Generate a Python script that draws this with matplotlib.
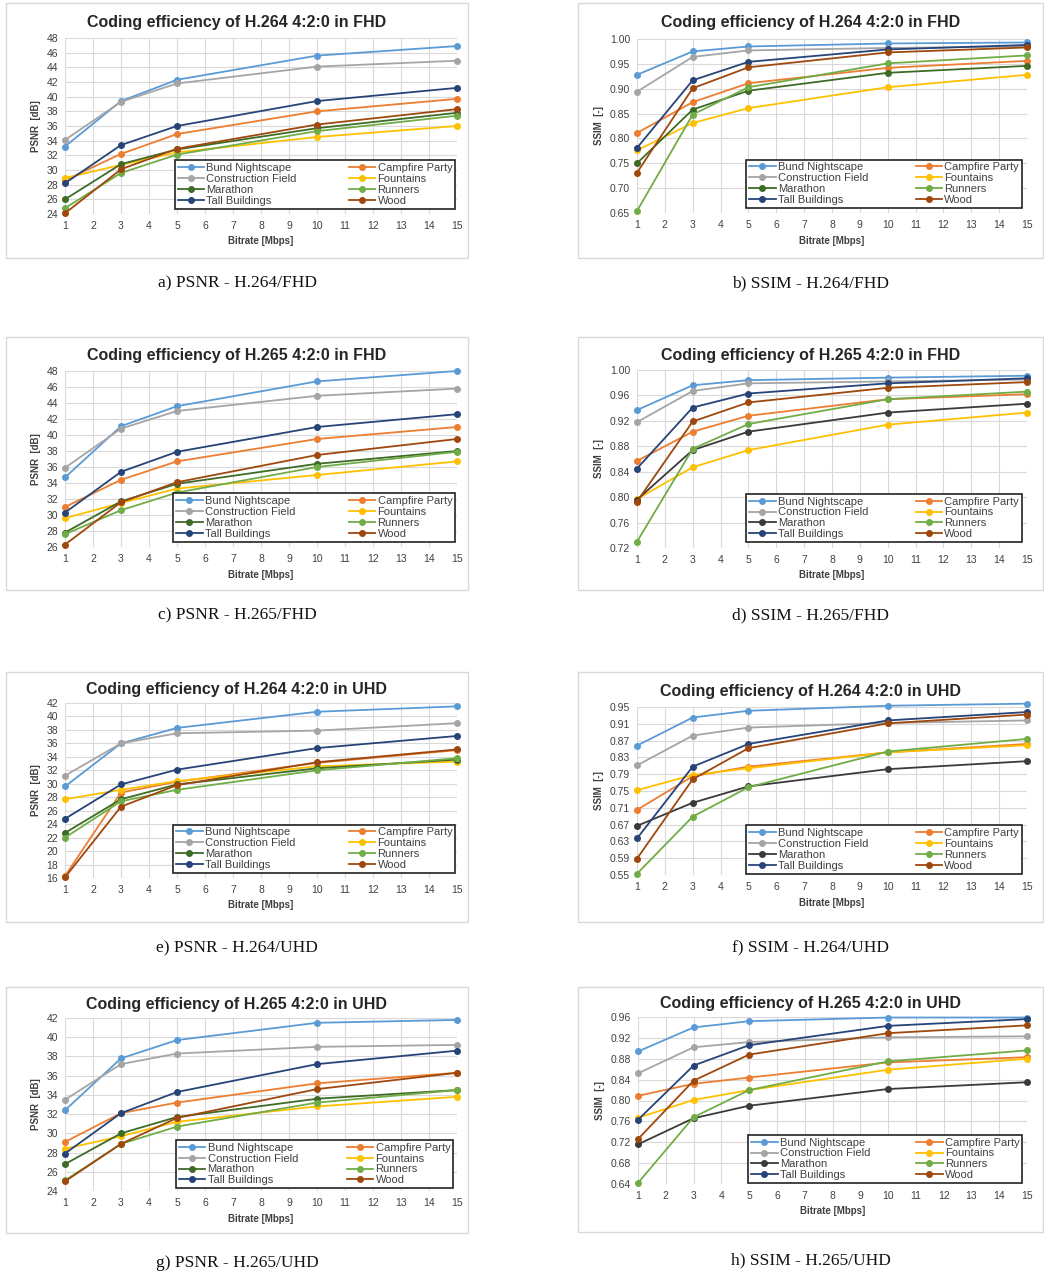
import matplotlib
matplotlib.use("Agg")
import matplotlib.pyplot as plt
from matplotlib.patches import Rectangle
from matplotlib.ticker import FormatStrFormatter
import numpy as np

# ---------------------------------------------------------------- data
bitrates = [1, 3, 5, 10, 15]
x_ticks = list(range(1, 16))

sequences = ["Bund Nightscape", "Campfire Party", "Construction Field", "Fountains",
             "Marathon", "Runners", "Tall Buildings", "Wood"]

# series order follows `sequences`
psnr_h264_fhd = [
    [33.2, 39.4, 42.3, 45.6, 46.9],
    [28.6, 32.2, 34.9, 38.0, 39.7],
    [34.1, 39.3, 41.8, 44.1, 44.9],
    [28.9, 30.7, 32.4, 34.5, 36.0],
    [26.0, 30.8, 32.8, 35.7, 37.8],
    [24.8, 29.6, 32.1, 35.3, 37.4],
    [28.2, 33.4, 36.0, 39.4, 41.2],
    [24.1, 30.1, 32.9, 36.2, 38.3],
]
ssim_h264_fhd = [
    [0.928, 0.975, 0.985, 0.991, 0.993],
    [0.811, 0.873, 0.911, 0.942, 0.956],
    [0.894, 0.964, 0.977, 0.982, 0.985],
    [0.776, 0.831, 0.861, 0.903, 0.928],
    [0.750, 0.858, 0.896, 0.932, 0.946],
    [0.654, 0.848, 0.903, 0.951, 0.967],
    [0.781, 0.917, 0.954, 0.979, 0.988],
    [0.731, 0.901, 0.943, 0.973, 0.983],
]
psnr_h265_fhd = [
    [34.7, 41.1, 43.6, 46.7, 48.0],
    [31.0, 34.4, 36.7, 39.5, 41.0],
    [35.9, 40.8, 43.0, 44.9, 45.8],
    [29.6, 31.5, 33.3, 35.0, 36.7],
    [27.8, 31.7, 33.9, 36.4, 38.0],
    [27.6, 30.6, 32.8, 36.0, 37.9],
    [30.3, 35.4, 37.9, 41.0, 42.6],
    [26.3, 31.6, 34.1, 37.5, 39.5],
]
ssim_h265_fhd = [
    [0.937, 0.976, 0.984, 0.988, 0.991],
    [0.857, 0.903, 0.928, 0.954, 0.962],
    [0.918, 0.967, 0.979, 0.982, 0.985],
    [0.797, 0.847, 0.874, 0.914, 0.933],
    [0.796, 0.874, 0.903, 0.933, 0.947],
    [0.730, 0.876, 0.915, 0.954, 0.966],
    [0.845, 0.941, 0.963, 0.979, 0.987],
    [0.793, 0.919, 0.949, 0.972, 0.981],
]
psnr_h264_uhd = [
    [29.6, 36.0, 38.3, 40.7, 41.5],
    [16.3, 28.7, 30.3, 33.1, 35.0],
    [31.2, 36.0, 37.5, 37.9, 39.0],
    [27.7, 29.1, 30.4, 32.6, 33.3],
    [22.7, 27.7, 29.9, 32.3, 33.6],
    [22.0, 27.4, 29.1, 32.0, 33.8],
    [24.8, 29.9, 32.1, 35.3, 37.1],
    [16.1, 26.6, 29.8, 33.2, 35.1],
]
ssim_h264_uhd = [
    [0.858, 0.925, 0.941, 0.953, 0.958],
    [0.705, 0.785, 0.808, 0.842, 0.862],
    [0.811, 0.882, 0.901, 0.912, 0.918],
    [0.752, 0.788, 0.804, 0.842, 0.859],
    [0.667, 0.722, 0.761, 0.802, 0.821],
    [0.553, 0.689, 0.759, 0.844, 0.874],
    [0.637, 0.808, 0.862, 0.918, 0.938],
    [0.589, 0.778, 0.852, 0.911, 0.932],
]
psnr_h265_uhd = [
    [32.4, 37.8, 39.7, 41.5, 41.8],
    [29.1, 32.1, 33.2, 35.2, 36.3],
    [33.5, 37.2, 38.3, 39.0, 39.2],
    [28.4, 29.7, 31.2, 32.8, 33.8],
    [26.8, 30.0, 31.7, 33.6, 34.5],
    [25.1, 28.9, 30.7, 33.2, 34.5],
    [27.9, 32.1, 34.3, 37.2, 38.6],
    [25.0, 28.9, 31.6, 34.6, 36.3],
]
ssim_h265_uhd = [
    [0.894, 0.940, 0.952, 0.959, 0.959],
    [0.809, 0.832, 0.844, 0.873, 0.883],
    [0.852, 0.902, 0.912, 0.921, 0.923],
    [0.767, 0.801, 0.820, 0.859, 0.880],
    [0.716, 0.766, 0.790, 0.822, 0.835],
    [0.642, 0.768, 0.820, 0.875, 0.896],
    [0.763, 0.867, 0.906, 0.943, 0.956],
    [0.726, 0.838, 0.888, 0.929, 0.944],
]

# ---------------------------------------------------------------- styling
base_colors = ["#5B9BD5", "#ED7D31", "#A5A5A5", "#FFC000",
               "#3E6B26", "#70AD47", "#264478", "#9E480E"]
marathon_dark = "#3A3A3A"

W, H = 1044, 1271
fig = plt.figure(figsize=(W / 100, H / 100), dpi=100)
fig.patch.set_facecolor("white")

SANS = ["Liberation Sans", "DejaVu Sans"]
SERIF = ["Liberation Serif", "DejaVu Serif"]

# legend is filled row by row: reorder for matplotlib's column-first filling
legend_order = [0, 2, 4, 6, 1, 3, 5, 7]


def fig_box(left, top, right, bottom):
    """pixel box -> figure fraction [x, y, w, h]"""
    return [left / W, 1 - bottom / H, (right - left) / W, (bottom - top) / H]


panels = [
    dict(data=psnr_h264_fhd, title="Coding efficiency of H.264 4:2:0 in FHD",
         caption="a) PSNR - H.264/FHD", ylabel="PSNR  [dB]",
         yticks=np.arange(24, 49, 2), fmt="%d", marathon=None,
         ax_px=(65, 38, 457, 214), box_px=(6, 3, 468, 258), cap_y=283,
         leg=(0.28, 0.03, 0.715, 0.26)),
    dict(data=ssim_h264_fhd, title="Coding efficiency of H.264 4:2:0 in FHD",
         caption="b) SSIM - H.264/FHD", ylabel="SSIM  [-]",
         yticks=np.linspace(0.65, 1.00, 8), fmt="%.2f", marathon=None,
         ax_px=(637, 39, 1027, 213), box_px=(578, 3, 1043, 258), cap_y=283,
         leg=(0.28, 0.03, 0.707, 0.315)),
    dict(data=psnr_h265_fhd, title="Coding efficiency of H.265 4:2:0 in FHD",
         caption="c) PSNR - H.265/FHD", ylabel="PSNR  [dB]",
         yticks=np.arange(26, 49, 2), fmt="%d", marathon=None,
         ax_px=(65, 371, 457, 547), box_px=(6, 337, 468, 590), cap_y=615,
         leg=(0.276, 0.03, 0.719, 0.254)),
    dict(data=ssim_h265_fhd, title="Coding efficiency of H.265 4:2:0 in FHD",
         caption="d) SSIM - H.265/FHD", ylabel="SSIM  [-]",
         yticks=np.linspace(0.72, 1.00, 8), fmt="%.2f", marathon=marathon_dark,
         ax_px=(637, 370, 1027, 548), box_px=(578, 337, 1043, 590), cap_y=615,
         leg=(0.28, 0.034, 0.707, 0.32)),
    dict(data=psnr_h264_uhd, title="Coding efficiency of H.264 4:2:0 in UHD",
         caption="e) PSNR - H.264/UHD", ylabel="PSNR  [dB]",
         yticks=np.arange(16, 43, 2), fmt="%d", marathon=None,
         ax_px=(65, 703, 457, 878), box_px=(6, 672, 468, 922), cap_y=948,
         leg=(0.276, 0.03, 0.719, 0.26)),
    dict(data=ssim_h264_uhd, title="Coding efficiency of H.264 4:2:0 in UHD",
         caption="f) SSIM - H.264/UHD", ylabel="SSIM  [-]",
         yticks=np.linspace(0.55, 0.95, 11), fmt="%.2f", marathon=marathon_dark,
         ax_px=(637, 707, 1027, 875), box_px=(578, 672, 1043, 922), cap_y=948,
         leg=(0.28, 0.008, 0.707, 0.32)),
    dict(data=psnr_h265_uhd, title="Coding efficiency of H.265 4:2:0 in UHD",
         caption="g) PSNR - H.265/UHD", ylabel="PSNR  [dB]",
         yticks=np.arange(24, 43, 2), fmt="%d", marathon=None,
         ax_px=(65, 1018, 457, 1191), box_px=(6, 987, 468, 1233), cap_y=1263,
         leg=(0.283, 0.017, 0.707, 0.266)),
    dict(data=ssim_h265_uhd, title="Coding efficiency of H.265 4:2:0 in UHD",
         caption="h) SSIM - H.265/UHD", ylabel="SSIM  [-]",
         yticks=np.linspace(0.64, 0.96, 9), fmt="%.2f", marathon=marathon_dark,
         ax_px=(638, 1017, 1027, 1184), box_px=(578, 987, 1043, 1232), cap_y=1260,
         leg=(0.283, 0.006, 0.705, 0.305)),
]

for p in panels:
    bl, bt, br, bb = p["box_px"]
    # chart frame
    fig.patches.append(Rectangle((bl / W, 1 - bb / H), (br - bl) / W, (bb - bt) / H,
                                 transform=fig.transFigure, fill=False,
                                 edgecolor="#D9D9D9", linewidth=1.0))
    cx = (bl + br) / 2 / W
    title_y = bt + (p["ax_px"][1] - bt) * 0.55
    fig.text(cx, 1 - title_y / H, p["title"], ha="center", va="center",
             fontsize=11.5, fontweight="bold", family=SANS, color="#262626")
    fig.text(cx, 1 - p["cap_y"] / H, p["caption"], ha="center", va="center",
             fontsize=12.5, family=SERIF, color="#111111")

    ax = fig.add_axes(fig_box(*p["ax_px"]))
    colors = list(base_colors)
    if p["marathon"]:
        colors[4] = p["marathon"]
    lines = []
    for name, vals, c in zip(sequences, p["data"], colors):
        ln, = ax.plot(bitrates, vals, color=c, linewidth=1.3, marker="o",
                      markersize=4, label=name, clip_on=False, zorder=3)
        lines.append(ln)

    ax.set_xlim(1, 15)
    ax.set_ylim(p["yticks"][0], p["yticks"][-1])
    ax.set_xticks(x_ticks)
    ax.set_yticks(p["yticks"])
    ax.yaxis.set_major_formatter(FormatStrFormatter(p["fmt"]))
    ax.grid(True, color="#D9D9D9", linewidth=0.8)
    ax.set_axisbelow(True)
    for s in ax.spines.values():
        s.set_visible(False)
    ax.tick_params(length=0, labelsize=7.5, labelcolor="#404040", pad=5)
    for lab in ax.get_xticklabels() + ax.get_yticklabels():
        lab.set_family(SANS)
    ax.set_xlabel("Bitrate [Mbps]", fontsize=7, fontweight="bold",
                  family=SANS, color="#404040", labelpad=4)
    ax.set_ylabel(p["ylabel"], fontsize=7, fontweight="bold",
                  family=SANS, color="#404040", labelpad=4)

    handles = [lines[i] for i in legend_order]
    labels = [sequences[i] for i in legend_order]
    leg = ax.legend(handles, labels, ncol=2, loc="lower left",
                    bbox_to_anchor=p["leg"], mode="expand", frameon=True,
                    fancybox=False, borderpad=0.25, labelspacing=0.08,
                    handlelength=2.4, handletextpad=0.2, borderaxespad=0,
                    columnspacing=1.0, prop={"family": SANS, "size": 8})
    leg.get_frame().set_edgecolor("#222222")
    leg.get_frame().set_linewidth(1.2)
    leg.get_frame().set_alpha(1)
    for t in leg.get_texts():
        t.set_color("#404040")
    leg.set_zorder(5)

fig.savefig("out.png", dpi=100, facecolor="white")
